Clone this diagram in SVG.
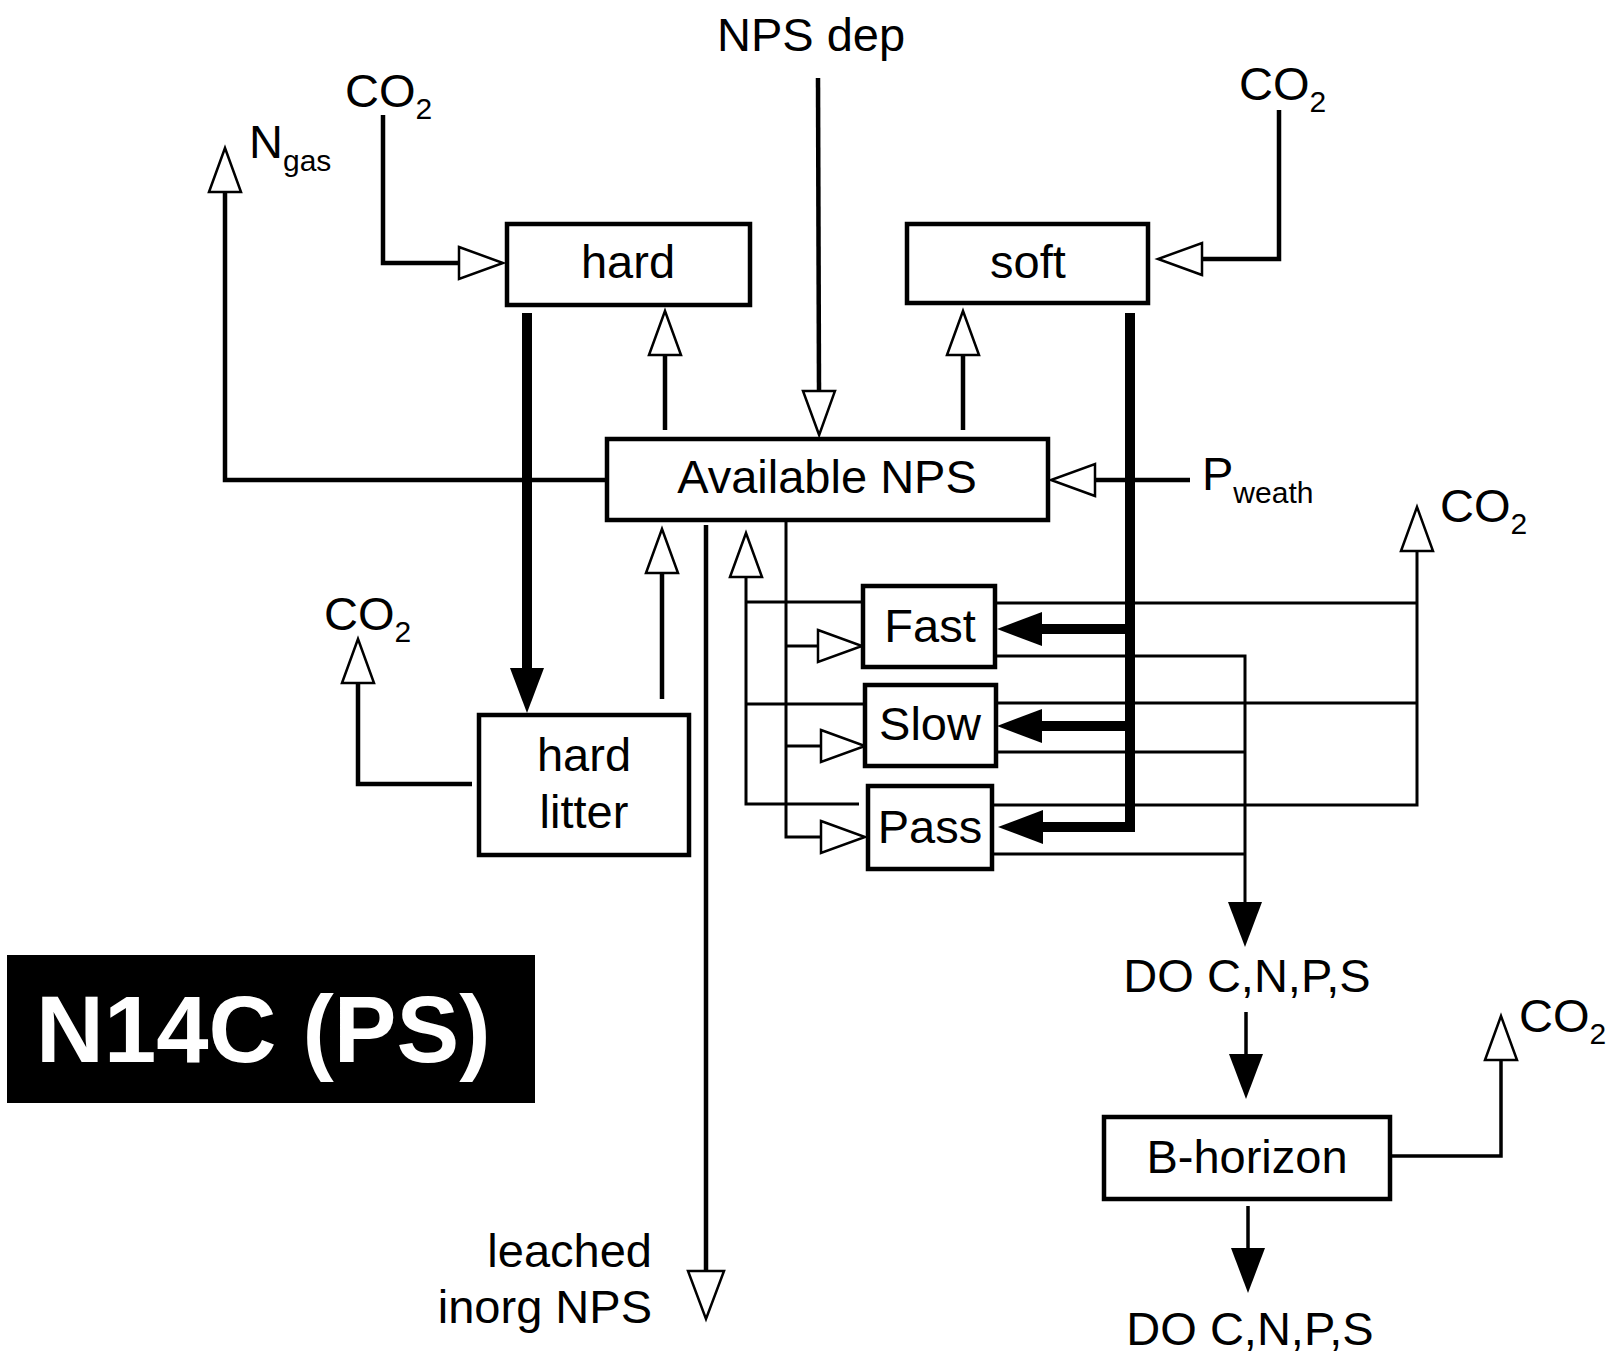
<svg xmlns="http://www.w3.org/2000/svg" width="1614" height="1355" viewBox="0 0 1614 1355">
<style>
  text { font-family: "Liberation Sans", Arial, sans-serif; font-size: 47px; fill: #000; }
  .c { text-anchor: middle; }
  .e { text-anchor: end; }
  .sub { font-size: 30px; }
  .box { fill: #fff; stroke: #000; stroke-width: 4.5; }
  .ln { fill: none; stroke: #000; stroke-width: 4.5; stroke-linejoin: miter; }
  .tn { fill: none; stroke: #000; stroke-width: 3; stroke-linejoin: miter; }
  .md { fill: none; stroke: #000; stroke-width: 3.5; stroke-linejoin: miter; }
  .tk { fill: none; stroke: #000; stroke-width: 10; stroke-linejoin: miter; }
  .oa { marker-end: url(#open); }
  .ol { marker-end: url(#openL); }
  .fa { marker-end: url(#filled); }
  .title { font-weight: bold; font-size: 94px; fill: #fff; }
</style>
<defs>
  <marker id="open" markerUnits="userSpaceOnUse" markerWidth="50" markerHeight="40" refX="0" refY="17" orient="auto" overflow="visible">
    <path d="M0,1 L44,17 L0,33 Z" fill="#fff" stroke="#000" stroke-width="2.5"/>
  </marker>
  <marker id="openL" markerUnits="userSpaceOnUse" markerWidth="54" markerHeight="44" refX="0" refY="19" orient="auto" overflow="visible">
    <path d="M0,1 L48,19 L0,37 Z" fill="#fff" stroke="#000" stroke-width="2.5"/>
  </marker>
  <marker id="filled" markerUnits="userSpaceOnUse" markerWidth="50" markerHeight="40" refX="0" refY="17" orient="auto" overflow="visible">
    <path d="M0,0 L45,17 L0,34 Z" fill="#000"/>
  </marker>
</defs>

<g id="connectors">
  <path class="ln oa" d="M383,115 V263 H459"/>
  <path class="ln oa" d="M1279,110 V259 H1202"/>
  <path class="ln oa" d="M818,78 L819,391"/>
  <path class="ln oa" d="M665,430 V355"/>
  <path class="ln oa" d="M963,430 V355"/>
  <path class="ln oa" d="M605,480 H225 V192"/>
  <path class="tk fa" d="M527,313 V668"/>
  <path class="ln oa" d="M472,784 H358 V683"/>
  <path class="ln oa" d="M662,699 V573"/>
  <path class="ln ol" d="M706,525 V1271"/>
  <path class="ln oa" d="M1190,480 H1095"/>
  <!-- returns to Available -->
  <path class="tn oa" d="M859,804 H746 V577"/>
  <path class="tn" d="M861,602 H746"/>
  <path class="tn" d="M863,704 H746"/>
  <!-- feeds from Available -->
  <path class="tn oa" d="M786,522 V837 H821"/>
  <path class="tn oa" d="M786,646 H818"/>
  <path class="tn oa" d="M786,746 H821"/>
  <!-- thick soft litter -->
  <path class="tk fa" d="M1130,313 V827 H1043"/>
  <path class="tk fa" d="M1130,629 H1042"/>
  <path class="tk fa" d="M1130,726 H1042"/>
  <!-- CO2 right -->
  <path class="tn" d="M997,603 H1417"/>
  <path class="tn" d="M998,703 H1417"/>
  <path class="tn oa" d="M994,805 H1417 V551"/>
  <!-- DOC -->
  <path class="tn fa" d="M997,656 H1245 V902"/>
  <path class="tn" d="M998,752 H1245"/>
  <path class="tn" d="M994,854 H1245"/>
  <!-- B-horizon -->
  <path class="md fa" d="M1246,1012 V1054"/>
  <path class="md oa" d="M1392,1156 H1501 V1060"/>
  <path class="md fa" d="M1248,1206 V1248"/>
</g>

<g id="node-hard"><rect class="box" x="507" y="224" width="243" height="81"/><text class="c" x="628" y="278">hard</text></g>
<g id="node-soft"><rect class="box" x="907" y="224" width="241" height="79"/><text class="c" x="1028" y="278">soft</text></g>
<g id="node-available"><rect class="box" x="607" y="439" width="441" height="81"/><text class="c" x="827" y="493">Available NPS</text></g>
<g id="node-hardlitter"><rect class="box" x="479" y="715" width="210" height="140"/><text class="c" x="584" y="771">hard</text><text class="c" x="584" y="828">litter</text></g>
<g id="node-fast"><rect class="box" x="863" y="586" width="132" height="81"/><text class="c" x="930" y="642">Fast</text></g>
<g id="node-slow"><rect class="box" x="865" y="685" width="131" height="81"/><text class="c" x="930" y="740">Slow</text></g>
<g id="node-pass"><rect class="box" x="868" y="786" width="124" height="83"/><text class="c" x="930" y="843">Pass</text></g>
<g id="node-bhorizon"><rect class="box" x="1104" y="1117" width="286" height="82"/><text class="c" x="1247" y="1173">B-horizon</text></g>
<g id="node-title"><rect x="7" y="955" width="528" height="148" fill="#000"/><text class="title" x="36" y="1062">N14C (PS)</text></g>

<g id="labels">
  <text class="c" x="811" y="51">NPS dep</text>
  <text x="345" y="107">CO<tspan class="sub" dy="12">2</tspan></text>
  <text x="1239" y="100">CO<tspan class="sub" dy="12">2</tspan></text>
  <text x="324" y="630">CO<tspan class="sub" dy="12">2</tspan></text>
  <text x="1440" y="522">CO<tspan class="sub" dy="12">2</tspan></text>
  <text x="1519" y="1032">CO<tspan class="sub" dy="12">2</tspan></text>
  <text x="249" y="158">N<tspan class="sub" dy="13">gas</tspan></text>
  <text x="1202" y="490">P<tspan class="sub" dy="13">weath</tspan></text>
  <text class="c" x="1247" y="992">DO C,N,P,S</text>
  <text class="c" x="1250" y="1345">DO C,N,P,S</text>
  <text class="e" x="652" y="1267">leached</text>
  <text class="e" x="652" y="1323">inorg NPS</text>
</g>
</svg>
